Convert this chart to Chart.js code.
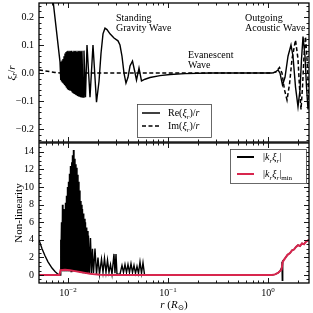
<!DOCTYPE html>
<html>
<head>
<meta charset="utf-8">
<script src="https://cdn.jsdelivr.net/npm/chart.js@4.4.0/dist/chart.umd.min.js"></script>
<style>
  html, body { margin: 0; padding: 0; background: #fff; }
  #wrap { position: relative; width: 313px; height: 313px; overflow: hidden; }
  canvas { position: absolute; left: 0; }
  #top { top: 0; }
  #bot { top: 142px; }
</style>
</head>
<body>
<div id="wrap">
  <canvas id="top" width="313" height="146"></canvas>
  <canvas id="bot" width="313" height="171"></canvas>
</div>
<script>
// Re(xi_r)/r  (r in R_sun)
const reR = [
  0.00661, 0.00708, 0.00832,
  0.00842, 0.00851, 0.00861, 0.00871, 0.00881, 0.00891, 0.00902, 0.00912, 0.00923, 0.00933,
  0.00944, 0.00955, 0.00966, 0.00977, 0.00989, 0.01, 0.01012, 0.01023, 0.01035, 0.01047,
  0.01059, 0.01072, 0.01084, 0.01096, 0.01109, 0.01122, 0.01135, 0.01148, 0.01161, 0.01175,
  0.01189, 0.01202, 0.01216, 0.0123, 0.01245, 0.01259, 0.01274, 0.01288, 0.01303, 0.01318,
  0.01334, 0.01349, 0.01365, 0.0138,
  0.01413, 0.01445, 0.01496, 0.01549, 0.0166, 0.01778, 0.01928, 0.02042, 0.02138, 0.02239,
  0.02344, 0.02455, 0.0263, 0.02884, 0.03162, 0.0331, 0.03467, 0.03631, 0.038, 0.03981,
  0.04169, 0.04416, 0.04624, 0.04842, 0.05129, 0.05433, 0.05888, 0.06607, 0.0832, 0.1047,
  0.1479, 0.263, 1.096, 1.175, 1.259, 1.318, 1.396, 1.479, 1.585, 1.698,
  1.778, 1.884, 1.995, 2.089, 2.163, 2.239, 2.344, 2.427, 2.512, 2.57
];
const reV = [
  0.33, 0.26, 0.04,
  -0.025, 0.035, -0.028, 0.045, -0.032, 0.05, -0.036, 0.06, -0.04, 0.07,
  -0.045, 0.075, -0.05, 0.078, -0.055, 0.08, -0.058, 0.077, -0.06, 0.08,
  -0.063, 0.078, -0.066, 0.08, -0.068, 0.076, -0.07, 0.08, -0.072, 0.078,
  -0.075, 0.08, -0.077, 0.075, -0.079, 0.08, -0.081, 0.078, -0.082, 0.08,
  -0.084, 0.077, -0.085, 0.08,
  -0.086, 0.08, -0.086, 0.1, -0.086, 0.1, -0.104, -0.03, 0.07, 0.14,
  0.16, 0.155, 0.14, 0.125, 0.115, 0.1, 0.06, 0.0, -0.036, -0.015,
  0.025, 0.043, 0.01, -0.025, 0.018, -0.028, -0.022, -0.016, -0.009, -0.005,
  -0.002, 0.0, 0.0, 0.003, 0.011, 0.0, -0.043, -0.015, 0.06, 0.1,
  0.06, -0.05, -0.12, -0.06, 0.05, 0.13, 0.06, -0.05, -0.13, -0.1
];
// Im(xi_r)/r
const imR = [0.00513, 0.00589, 0.00661, 0.00741, 0.00832, 1.096, 1.202, 1.303, 1.38, 1.462, 1.549,
  1.641, 1.738, 1.884, 1.995, 2.065, 2.138, 2.213, 2.291, 2.371, 2.455, 2.57];
const imV = [0.011, 0.008, 0.005, 0.002, 0.0, 0.0, 0.004, 0.02, 0.0, -0.06, -0.096,
  -0.04, 0.05, 0.118, 0.05, -0.05, -0.13, -0.05, 0.06, 0.13, 0.05, -0.1];

// |k_r xi_r|
const nlR = [
  0.00513, 0.0055, 0.00589, 0.00631, 0.00692, 0.00741, 0.00794, 0.00832,
  0.00842, 0.00851, 0.00861, 0.00871, 0.00881, 0.00891, 0.00902, 0.00912, 0.00923, 0.00933,
  0.00944, 0.00955, 0.00966, 0.00977, 0.00989, 0.01, 0.01012, 0.01023, 0.01035, 0.01047,
  0.01059, 0.01072, 0.01084, 0.01096, 0.01109, 0.01122, 0.01135, 0.01148, 0.01161, 0.01175,
  0.01189, 0.01202, 0.01216, 0.0123, 0.01245, 0.01259, 0.01274, 0.01288, 0.01303, 0.01318,
  0.01334, 0.01349, 0.01365, 0.0138, 0.01396, 0.01413, 0.01429, 0.01445, 0.01462, 0.01479,
  0.01496, 0.01514, 0.01531, 0.01549, 0.01567, 0.01585, 0.01603,
  0.01641, 0.01679, 0.01718, 0.01758, 0.01799, 0.01862, 0.01928, 0.01995, 0.02065, 0.02163,
  0.02239, 0.02317, 0.02399, 0.02483, 0.0257, 0.02661, 0.02754, 0.02884, 0.02951, 0.0302,
  0.0309, 0.0331, 0.03467, 0.03589, 0.03715, 0.03846, 0.03981, 0.0412, 0.04266, 0.04416,
  0.04571, 0.04732, 0.04898, 0.0507, 0.05248, 0.05433, 0.05623, 0.05821, 0.06166,
  1.096, 1.175, 1.259, 1.318, 1.365, 1.38, 1.39, 1.403, 1.479, 1.567,
  1.66, 1.738, 1.82, 1.905, 1.995, 2.089, 2.188, 2.291, 2.399, 2.57
];
const nlV = [
  4.0, 3.0, 2.2, 1.5, 0.8, 0.4, 0.1, 0.0,
  4.0, 0.5, 6.0, 0.5, 8.0, 0.4, 7.5, 0.5, 7.4, 0.4,
  8.2, 0.5, 9.0, 0.4, 10.0, 0.5, 10.6, 0.4, 11.5, 0.5,
  12.4, 0.4, 12.8, 0.5, 13.6, 0.4, 14.2, 0.5, 13.2, 0.4,
  12.6, 0.5, 12.2, 0.4, 11.4, 0.4, 10.6, 0.4, 9.6, 0.3,
  8.4, 0.3, 8.0, 0.3, 7.5, 0.3, 7.0, 0.3, 6.4, 0.2,
  6.0, 0.2, 5.4, 0.2, 5.0, 0.2, 4.5,
  0.2, 4.2, 0.2, 3.0, 0.2, 3.0, 0.1, 2.0, 0.1, 1.8,
  0.3, 1.9, 0.3, 1.7, 0.3, 1.2, 0.1, 2.4, 0.2, 2.4,
  0.1, 0.1, 1.1, 0.3, 1.2, 0.3, 1.2, 0.3, 1.3, 0.3,
  1.1, 0.2, 1.0, 0.2, 1.5, 0.2, 1.4, 0.05, 0.0,
  0.0, 0.08, 0.25, 0.45, 0.8, 1.5, -0.6, 1.6, 1.9, 2.3,
  2.5, 2.8, 2.9, 3.2, 3.4, 3.3, 3.6, 3.5, 3.8, 4.0
];
// |k_r xi_r|_min
const nlMinR = [0.00513, 0.00822, 0.00842, 0.00933, 0.01047, 0.01175, 0.01318, 0.01479, 0.0166, 0.01862,
  0.0209, 0.0263, 0.04169, 1.096, 1.175, 1.259, 1.318, 1.365, 1.403, 1.479,
  1.567, 1.66, 1.738, 1.82, 1.905, 1.995, 2.089, 2.188, 2.291, 2.399, 2.57];
const nlMinV = [0.0, 0.0, 0.55, 0.6, 0.55, 0.45, 0.35, 0.25, 0.15, 0.08,
  0.04, 0.01, 0.0, 0.0, 0.08, 0.25, 0.45, 0.6, 1.5, 1.9,
  2.3, 2.5, 2.8, 2.9, 3.2, 3.4, 3.3, 3.6, 3.5, 3.8, 4.0];

const topTicks = [-0.2, -0.1, 0, 0.1, 0.2];
const topTickLabels = ['\u22120.2', '\u22120.1', '0.0', '0.1', '0.2'];
const botTicks = [0, 2, 4, 6, 8, 10, 12, 14];
const botTickLabels = ['0', '2', '4', '6', '8', '10', '12', '14'];
const xMajor = [0.01, 0.1, 1];
const xMajorExp = ['\u22122', '\u22121', '0'];

const SERIF = '"Liberation Serif", "DejaVu Serif", serif';
const RED = '#d8264e';
const X_MIN = 0.00513, X_MAX = 2.57;

function pts(xs, ys) { return xs.map((x, i) => ({ x: x, y: ys[i] })); }

// text with italic / sub / sup pieces
function rich(ctx, segs, x, y, size, align) {
  const parts = segs.map(([t, k]) => {
    const small = (k === 'sub' || k === 'isub' || k === 'sup');
    const it = (k === 'i' || k === 'isub');
    const fs = small ? size * 0.7 : size;
    const font = (it ? 'italic ' : '') + fs + 'px ' + SERIF;
    ctx.font = font;
    const dy = k === 'sup' ? -size * 0.38 : (small ? size * 0.22 : 0);
    return { t, font, w: ctx.measureText(t).width, dy };
  });
  const total = parts.reduce((s, p) => s + p.w, 0);
  let cx = align === 'center' ? x - total / 2 : (align === 'right' ? x - total : x);
  ctx.textAlign = 'left';
  ctx.textBaseline = 'alphabetic';
  const base = y + size * 0.33;
  parts.forEach(p => { ctx.font = p.font; ctx.fillText(p.t, cx, base + p.dy); cx += p.w; });
}

const xMinor = [];
[0.001, 0.01, 0.1, 1].forEach(d => {
  for (let k = 2; k <= 9; k++) { const v = k * d; if (v > X_MIN && v < X_MAX) xMinor.push(v); }
});

// ticks pointing inward + frame
const frameTicks = {
  id: 'frameTicks',
  afterDatasetsDraw(chart, args, opts) {
    const { ctx, chartArea: a, scales } = chart;
    ctx.save();
    ctx.strokeStyle = '#000';
    ctx.lineWidth = 0.9;
    const seg = (x1, y1, x2, y2) => { ctx.beginPath(); ctx.moveTo(x1, y1); ctx.lineTo(x2, y2); ctx.stroke(); };
    xMinor.forEach(v => {
      const p = Math.round(scales.x.getPixelForValue(v)) + 0.5;
      seg(p, a.top, p, a.top + 2.5); seg(p, a.bottom, p, a.bottom - 2.5);
    });
    xMajor.forEach(v => {
      const p = Math.round(scales.x.getPixelForValue(v)) + 0.5;
      seg(p, a.top, p, a.top + 5); seg(p, a.bottom, p, a.bottom - 5);
    });
    opts.yMinor.forEach(v => {
      const p = Math.round(scales.y.getPixelForValue(v)) + 0.5;
      seg(a.left, p, a.left + 2.5, p); seg(a.right, p, a.right - 2.5, p);
    });
    opts.yMajor.forEach(v => {
      const p = Math.round(scales.y.getPixelForValue(v)) + 0.5;
      seg(a.left, p, a.left + 5, p); seg(a.right, p, a.right - 5, p);
    });
    ctx.lineWidth = 1.3;
    ctx.strokeRect(a.left, a.top, a.right - a.left, a.bottom - a.top);
    ctx.restore();
  },
  afterDraw(chart, args, opts) {
    if (opts.texts) opts.texts(chart.ctx, chart);
  }
};

function yScale(min, max, ticks, labels) {
  return {
    min: min, max: max,
    afterFit(s) { s.width = 39; s.paddingTop = 0; s.paddingBottom = 0; },
    afterBuildTicks(s) { s.ticks = ticks.map(v => ({ value: v })); },
    grid: { display: false, drawTicks: false },
    border: { display: false },
    ticks: {
      padding: 5, color: '#000', font: { size: 10, family: SERIF },
      callback: (v) => labels[ticks.indexOf(v)]
    }
  };
}

function legendBox(ctx, x, y, w, h) {
  ctx.save();
  ctx.fillStyle = '#fff';
  ctx.fillRect(x, y, w, h);
  ctx.strokeStyle = '#444';
  ctx.lineWidth = 0.8;
  ctx.strokeRect(x + 0.5, y + 0.5, w, h);
  ctx.restore();
}

const common = {
  responsive: false,
  animation: false,
  events: [],
  elements: { point: { radius: 0 }, line: { tension: 0 } }
};

// ---------- top panel ----------
new Chart(document.getElementById('top').getContext('2d'), {
  type: 'line',
  data: {
    datasets: [
      { data: pts(imR, imV), borderColor: '#000', borderWidth: 1.5, borderDash: [4, 2.5] },
      { data: pts(reR, reV), borderColor: '#000', borderWidth: 1.4 }
    ]
  },
  options: Object.assign({}, common, {
    layout: { padding: { left: 0, right: 4, top: 3, bottom: 4 } },
    scales: {
      x: { type: 'logarithmic', min: X_MIN, max: X_MAX, display: false },
      y: yScale(-0.246, 0.25, topTicks, topTickLabels)
    },
    plugins: {
      legend: { display: false },
      tooltip: { enabled: false },
      frameTicks: {
        yMajor: topTicks,
        yMinor: [-0.24, -0.22, -0.18, -0.16, -0.14, -0.12, -0.08, -0.06, -0.04, -0.02,
                 0.02, 0.04, 0.06, 0.08, 0.12, 0.14, 0.16, 0.18, 0.22, 0.24],
        texts(ctx) {
          ctx.save();
          ctx.fillStyle = '#000';
          rich(ctx, [['Standing', 'n']], 116, 18, 10, 'left');
          rich(ctx, [['Gravity Wave', 'n']], 116, 28, 10, 'left');
          rich(ctx, [['Evanescent', 'n']], 188, 55, 10, 'left');
          rich(ctx, [['Wave', 'n']], 188, 65, 10, 'left');
          rich(ctx, [['Outgoing', 'n']], 245, 18, 10, 'left');
          rich(ctx, [['Acoustic Wave', 'n']], 245, 28, 10, 'left');
          // y title
          ctx.save();
          ctx.translate(11, 73);
          ctx.rotate(-Math.PI / 2);
          rich(ctx, [['\u03BE', 'i'], ['r', 'isub'], ['/', 'n'], ['r', 'i']], 0, 0, 11, 'center');
          ctx.restore();
          // legend
          legendBox(ctx, 137, 104, 74, 33);
          ctx.strokeStyle = '#000';
          ctx.lineWidth = 1.5;
          ctx.beginPath(); ctx.moveTo(142, 113); ctx.lineTo(160, 113); ctx.stroke();
          ctx.setLineDash([4, 2.5]);
          ctx.beginPath(); ctx.moveTo(142, 126); ctx.lineTo(160, 126); ctx.stroke();
          ctx.setLineDash([]);
          rich(ctx, [['Re(', 'n'], ['\u03BE', 'i'], ['r', 'isub'], [')/', 'n'], ['r', 'i']], 168, 113, 10, 'left');
          rich(ctx, [['Im(', 'n'], ['\u03BE', 'i'], ['r', 'isub'], [')/', 'n'], ['r', 'i']], 168, 126, 10, 'left');
          ctx.restore();
        }
      }
    }
  }),
  plugins: [frameTicks]
});

// ---------- bottom panel ----------
new Chart(document.getElementById('bot').getContext('2d'), {
  type: 'line',
  data: {
    datasets: [
      { data: pts(nlMinR, nlMinV), borderColor: RED, borderWidth: 2 },
      { data: pts(nlR, nlV), borderColor: '#000', borderWidth: 1.4 }
    ]
  },
  options: Object.assign({}, common, {
    layout: { padding: { left: 0, right: 4, top: 1, bottom: 30 } },
    scales: {
      x: { type: 'logarithmic', min: X_MIN, max: X_MAX, display: false },
      y: yScale(-0.9, 15, botTicks, botTickLabels)
    },
    plugins: {
      legend: { display: false },
      tooltip: { enabled: false },
      frameTicks: {
        yMajor: botTicks,
        yMinor: [-0.5, 0.5, 1, 1.5, 2.5, 3, 3.5, 4.5, 5, 5.5, 6.5, 7, 7.5, 8.5, 9, 9.5,
                 10.5, 11, 11.5, 12.5, 13, 13.5, 14.5],
        texts(ctx, chart) {
          const a = chart.chartArea;
          ctx.save();
          ctx.fillStyle = '#000';
          xMajor.forEach((v, i) => {
            const p = chart.scales.x.getPixelForValue(v);
            rich(ctx, [['10', 'n'], [xMajorExp[i], 'sup']], p, a.bottom + 9.5, 10, 'center');
          });
          rich(ctx, [['r', 'i'], [' (', 'n'], ['R', 'i'], ['\u2299', 'sub'], [')', 'n']],
               (a.left + a.right) / 2, a.bottom + 21, 11, 'center');
          ctx.save();
          ctx.translate(18, (a.top + a.bottom) / 2);
          ctx.rotate(-Math.PI / 2);
          rich(ctx, [['Non-linearity', 'n']], 0, 0, 11, 'center');
          ctx.restore();
          // legend
          legendBox(ctx, 230, 7, 76, 34);
          ctx.lineWidth = 2;
          ctx.strokeStyle = '#000';
          ctx.beginPath(); ctx.moveTo(237, 15); ctx.lineTo(254, 15); ctx.stroke();
          ctx.strokeStyle = RED;
          ctx.beginPath(); ctx.moveTo(237, 32); ctx.lineTo(254, 32); ctx.stroke();
          rich(ctx, [['|', 'n'], ['k', 'i'], ['r', 'isub'], ['\u03BE', 'i'], ['r', 'isub'], ['|', 'n']], 263, 15, 10, 'left');
          rich(ctx, [['|', 'n'], ['k', 'i'], ['r', 'isub'], ['\u03BE', 'i'], ['r', 'isub'], ['|', 'n'], ['min', 'sub']], 263, 32, 10, 'left');
          ctx.restore();
        }
      }
    }
  }),
  plugins: [frameTicks]
});
</script>
</body>
</html>
